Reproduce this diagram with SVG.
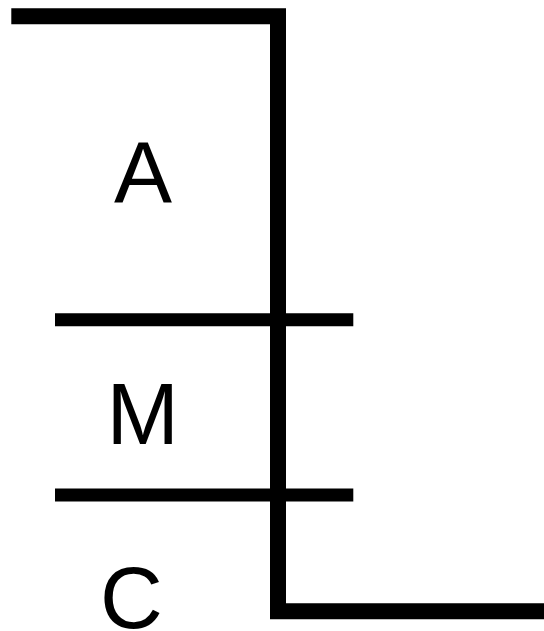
<svg xmlns="http://www.w3.org/2000/svg" width="544" height="631" viewBox="0 0 544 631">
<style>
.ln{fill:none;stroke:#000;stroke-linecap:butt;stroke-linejoin:miter}
.lbl{font-family:"Liberation Sans",Arial,sans-serif;font-size:87px;fill:#000;text-anchor:middle}
</style>
<rect width="544" height="631" fill="#fff"/>
<g id="connectors">
<polyline class="ln" stroke-width="16" points="11.3,16.3 278,16.3 278,611.3 544,611.3"/>
<line class="ln" stroke-width="13" x1="55" y1="319.7" x2="353.3" y2="319.7"/>
<line class="ln" stroke-width="13" x1="55" y1="495" x2="353.3" y2="495"/>
</g>
<g id="node-A"><text class="lbl" x="143" y="203">A</text></g>
<g id="node-M"><text class="lbl" x="142.7" y="444">M</text></g>
<g id="node-C"><text class="lbl" x="131.3" y="628">C</text></g>
</svg>
